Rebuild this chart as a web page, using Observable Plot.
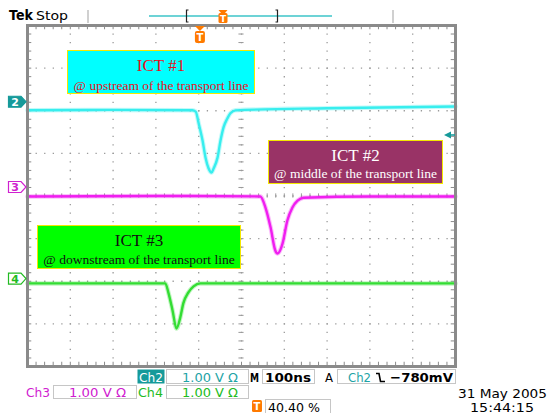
<!DOCTYPE html>
<html><head><meta charset="utf-8">
<script src="https://cdn.jsdelivr.net/npm/d3@7"></script>
<script src="https://cdn.jsdelivr.net/npm/@observablehq/plot@0.6"></script>
<style>
body{margin:0;background:#fff;}
#wrap{position:relative;width:554px;height:413px;overflow:hidden;}
.ict{position:absolute;box-sizing:border-box;border:1.5px solid #f4e800;font-family:"Liberation Serif",serif;}
.ict .t{position:absolute;left:0;right:0;text-align:center;font-size:17px;line-height:20px;}
.ict .s{position:absolute;left:0;right:0;text-align:center;font-size:13.5px;line-height:16px;}
</style></head>
<body><div id="wrap"></div>
<script>
// ---- data (time in ns, amplitude in volts, 1 V/div, 100 ns/div) ----
const channelNames = ["2", "3", "4"];
const channelPositions = [2.2, 0.2, -1.95];          // ground markers, divisions
const channelColors = ["#38eeee", "#f01ef0", "#33dd33"];
const markerColors = ["#169a9a", "#d020d0", "#22bb22"];
const ch2Trace = [[0,-0.19],[190,-0.18],[385,-0.19],[393,-0.22],[400,-0.50],[409,-0.90],[416,-1.30],[423,-1.55],[430,-1.65],[435,-1.55],[444,-1.30],[451,-0.90],[458,-0.59],[467,-0.38],[474,-0.26],[486,-0.19],[700,-0.14],[1000,-0.10]];
const ch3Trace = [[0,-0.21],[300,-0.20],[544,-0.21],[556,-0.47],[568,-0.94],[579,-1.48],[584,-1.55],[596,-1.31],[607,-0.78],[619,-0.47],[631,-0.31],[645,-0.24],[800,-0.21],[1000,-0.21]];
const ch4Trace = [[0,-0.10],[200,-0.10],[322,-0.10],[329,-0.31],[339,-0.74],[348,-1.16],[357,-0.90],[364,-0.57],[376,-0.31],[388,-0.17],[404,-0.10],[700,-0.10],[1000,-0.10]];
const triggerPositionNs = 404;     // 40.40 %
const triggerLevelV = -0.78;       // Ch2
const ictTitles = ["ICT #1", "ICT #2", "ICT #3"];
const ictSubtitles = ["@ upstream of the transport line", "@ middle of the transport line", "@ downstream of the transport line"];
const ictFills = ["#00ffff", "#993366", "#00ff00"];
const ictTextColors = ["#e8101c", "#ffffff", "#111111"];
const scaleLabels = ["1.00 V \u03A9", "1.00 V \u03A9", "1.00 V \u03A9"];
const timebaseLabel = "100ns";
const triggerLabel = "\u2212780mV";
const positionLabel = "40.40 %";
const dateLabel = "31 May 2005";
const timeLabel = "15:44:15";

// ---- graticule helpers (10 x 8 divisions) ----
const majorX = d3.range(1, 10).map(i => i * 100);
const majorY = d3.range(-3, 4);
const minorX = d3.range(1, 50).map(i => i * 20);
const minorY = d3.range(1, 40).map(i => -4 + i * 0.2);

const traces = [ch2Trace, ch3Trace, ch4Trace];
const lineMarks = [];
traces.forEach((tr, i) => {
  const pos = channelPositions[i];
  lineMarks.push(Plot.line(tr, {x: d => d[0], y: d => d[1] + pos, stroke: channelColors[i], strokeWidth: 4.5, strokeOpacity: 0.3, curve: "monotone-x"}));
  lineMarks.push(Plot.line(tr, {x: d => d[0], y: d => d[1] + pos, stroke: channelColors[i], strokeWidth: 2.4, curve: "monotone-x"}));
});

const chart = Plot.plot({
  width: 554, height: 413,
  marginLeft: 27, marginRight: 99, marginTop: 25, marginBottom: 47,
  x: {domain: [0, 1000], axis: null},
  y: {domain: [-4, 4], axis: null},
  style: {background: "white", overflow: "visible"},
  marks: [
    Plot.ruleY(majorY, {stroke: "#9a9a9a", strokeWidth: 1.3, strokeDasharray: "1.3,7.26"}),
    Plot.ruleX(majorX, {stroke: "#9a9a9a", strokeWidth: 1.3, strokeDasharray: "1.3,7.22"}),
    Plot.ruleX(minorX, {x: d => d, y1: -0.05, y2: 0.05, stroke: "#9a9a9a", strokeWidth: 1}),
    Plot.ruleY(minorY, {y: d => d, x1: 494, x2: 506, stroke: "#9a9a9a", strokeWidth: 1}),
    Plot.ruleX(minorX, {x: d => d, y1: 4, y2: 3.9, stroke: "#8a8a8a", strokeWidth: 1}),
    Plot.ruleX(minorX, {x: d => d, y1: -4, y2: -3.9, stroke: "#8a8a8a", strokeWidth: 1}),
    Plot.ruleY(minorY, {y: d => d, x1: 0, x2: 10, stroke: "#8a8a8a", strokeWidth: 1}),
    Plot.ruleY(minorY, {y: d => d, x1: 990, x2: 1000, stroke: "#8a8a8a", strokeWidth: 1}),
    ...lineMarks,
    Plot.frame({stroke: "#8a8a8a", strokeWidth: 3})
  ]
});
const wrap = document.getElementById("wrap");
wrap.appendChild(chart);

const xs = chart.scale("x"), ys = chart.scale("y");
const svg = d3.select(chart);
const font = "DejaVu Sans, sans-serif";

// channel ground markers
channelNames.forEach((name, i) => {
  const y = ys.apply(channelPositions[i]);
  const filled = i === 0;
  svg.append("path")
    .attr("d", `M8.5,${y - 5.5}H21L26,${y}L21,${y + 5.5}H8.5Z`)
    .attr("fill", filled ? markerColors[i] : "white")
    .attr("stroke", markerColors[i]).attr("stroke-width", 1.2);
  svg.append("text").attr("x", 15).attr("y", y + 4.2).attr("text-anchor", "middle")
    .attr("font-family", font).attr("font-weight", "bold").attr("font-size", 11)
    .attr("fill", filled ? "white" : markerColors[i]).text(name);
});

// trigger level arrow (right edge)
{
  const y = ys.apply(channelPositions[0] + triggerLevelV);
  svg.append("path").attr("d", `M444,${y}L451,${y - 3.5}V${y + 3.5}Z`).attr("fill", markerColors[0]);
  svg.append("path").attr("d", `M450,${y}H455`).attr("stroke", markerColors[0]).attr("stroke-width", 1.5);
}

const orange = "#ff7a00";
// trigger position marker (top)
{
  const x = xs.apply(triggerPositionNs);
  svg.append("path").attr("d", `M${x - 5},26H${x + 5}L${x},31Z`).attr("fill", orange);
  svg.append("rect").attr("x", x - 5).attr("y", 31).attr("width", 10).attr("height", 12).attr("rx", 2).attr("fill", orange);
  svg.append("text").attr("x", x).attr("y", 41).attr("text-anchor", "middle").attr("font-family", font)
    .attr("font-weight", "bold").attr("font-size", 10).attr("fill", "white").text("T");
}

function txt(x, y, s, color, len, bold, size) {
  const t = svg.append("text").attr("x", x).attr("y", y).attr("font-family", font)
    .attr("text-anchor", "start")
    .attr("font-size", size || 13).attr("fill", color).text(s);
  if (bold) t.attr("font-weight", "bold");
  if (len) t.attr("textLength", len).attr("lengthAdjust", "spacingAndGlyphs");
  return t;
}
function box(x, y, w, h) {
  svg.append("rect").attr("x", x + 0.5).attr("y", y + 0.5).attr("width", w).attr("height", h)
    .attr("fill", "white").attr("stroke", "#c6c6c6").attr("stroke-width", 1);
}

// header
txt(9, 20, "Tek", "#000", 24, true, 14);
txt(36, 20, "Stop", "#000", 32, false, 13);
[88, 393].forEach(x => svg.append("path").attr("d", `M${x},10V23`).attr("stroke", "#c0c0c0").attr("stroke-width", 1.5));
svg.append("path").attr("d", "M149,16H332").attr("stroke", "#3cc4c8").attr("stroke-width", 1.5);
svg.append("path").attr("d", "M188.5,10H186.5V22H188.5").attr("fill", "none").attr("stroke", "#222").attr("stroke-width", 1.2);
svg.append("path").attr("d", "M275.5,10H277.5V22H275.5").attr("fill", "none").attr("stroke", "#222").attr("stroke-width", 1.2);
svg.append("path").attr("d", "M218.5,10H227.5L225,13H221Z").attr("fill", orange);
svg.append("rect").attr("x", 218.5).attr("y", 13).attr("width", 9).attr("height", 10).attr("rx", 1.5).attr("fill", orange);
svg.append("text").attr("x", 223).attr("y", 21.5).attr("text-anchor", "middle").attr("font-family", font)
  .attr("font-weight", "bold").attr("font-size", 9).attr("fill", "white").text("T");

// footer row 1
svg.append("rect").attr("x", 137.5).attr("y", 369.5).attr("width", 27).attr("height", 14).attr("fill", markerColors[0]);
txt(139, 381.5, "Ch2", "white", 24);
box(166, 369, 82, 14);
txt(182, 381.5, scaleLabels[0], "#1ea3a6", 56);
txt(250, 381.5, "M", "#000", 9, true);
box(262, 369, 52, 14);
txt(265, 381.5, timebaseLabel, "#000", 46, true);
txt(325, 381.5, "A", "#000", 8);
box(337, 369, 118, 14);
txt(348, 381.5, "Ch2", "#1ea3a6", 23);
svg.append("path").attr("d", "M376,373.5H379L380.5,381.5H385").attr("fill", "none").attr("stroke", "#000").attr("stroke-width", 1.6);
txt(390, 381.5, triggerLabel, "#000", 63, true);
// row 2
txt(26, 397, "Ch3", markerColors[1], 24);
box(53, 385, 83, 13);
txt(69, 397, scaleLabels[1], markerColors[1], 57);
txt(138, 397, "Ch4", markerColors[2], 25);
box(166, 385, 82, 13);
txt(182, 397, scaleLabels[2], markerColors[2], 56);
// row 3
svg.append("rect").attr("x", 252).attr("y", 400).attr("width", 10).attr("height", 12).attr("rx", 1.5).attr("fill", orange);
svg.append("text").attr("x", 257).attr("y", 410).attr("text-anchor", "middle").attr("font-family", font)
  .attr("font-weight", "bold").attr("font-size", 10).attr("fill", "white").text("T");
box(265, 399, 65, 14);
txt(268, 411.5, positionLabel, "#000", 52);
txt(458, 397.5, dateLabel, "#000", 89);
txt(470, 411.5, timeLabel, "#000", 64);

// ICT annotation boxes
const ictBoxes = [
  {left: 67, top: 50, width: 188, height: 44, t: 5, s: 27},
  {left: 268, top: 140, width: 175, height: 44, t: 5, s: 25},
  {left: 37, top: 225, width: 204, height: 44, t: 5, s: 26}
];
ictBoxes.forEach((b, i) => {
  const d = document.createElement("div");
  d.className = "ict";
  Object.assign(d.style, {left: b.left + "px", top: b.top + "px", width: b.width + "px", height: b.height + "px", background: ictFills[i], color: ictTextColors[i]});
  d.innerHTML = `<div class="t" style="top:${b.t}px">${ictTitles[i]}</div><div class="s" style="top:${b.s}px">${ictSubtitles[i]}</div>`;
  wrap.appendChild(d);
});
</script>
</body></html>
